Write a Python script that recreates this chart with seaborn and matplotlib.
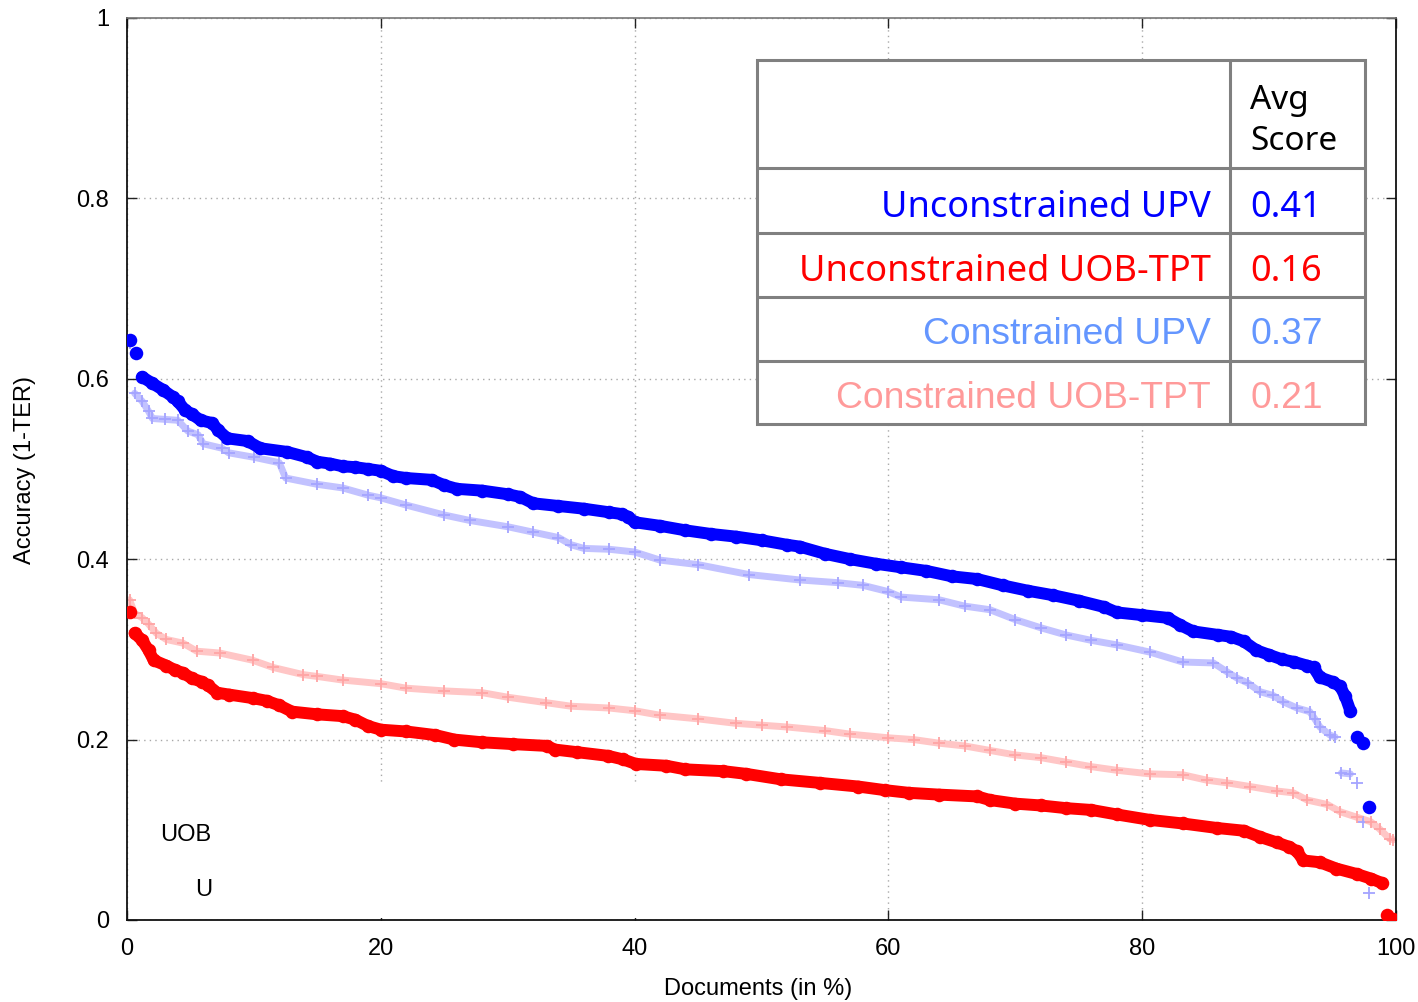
import matplotlib
matplotlib.use("Agg")
import matplotlib.pyplot as plt
import seaborn as sns
from matplotlib.patches import Rectangle
from matplotlib.lines import Line2D

# ---------------- data ----------------
upv_u_x = [0.2, 0.7, 1.2, 2.0, 2.8, 3.6, 4.0, 4.6, 5.1, 5.8, 6.7, 7.2, 7.9, 9.5, 10.5, 12.6, 14.2, 15, 16, 17,
           18, 19, 20, 21, 22, 24, 25, 26, 28, 30, 31, 32, 34, 36, 38, 39, 39.5, 40, 42, 44,
           46, 48, 50, 52, 53, 55, 57, 59, 61, 63, 65, 67, 69, 71, 73, 75, 77, 78, 80, 82,
           83, 84, 86, 87, 88, 89, 90, 91, 92, 93, 93.5, 94.0, 95.0, 95.6, 96.0, 96.4, 96.9, 97.4, 97.9]
upv_u_y = [0.643, 0.629, 0.602, 0.595, 0.588, 0.58, 0.575, 0.565, 0.561, 0.554, 0.551, 0.543, 0.534, 0.531, 0.523, 0.519, 0.513, 0.508, 0.506, 0.503,
           0.502, 0.5, 0.498, 0.492, 0.49, 0.488, 0.482, 0.478, 0.476, 0.472, 0.469, 0.462, 0.459, 0.456, 0.452, 0.45, 0.447, 0.441, 0.437, 0.432,
           0.428, 0.425, 0.421, 0.416, 0.414, 0.406, 0.4, 0.395, 0.391, 0.387, 0.381, 0.378, 0.371, 0.365, 0.36, 0.354, 0.347, 0.341, 0.338, 0.335,
           0.327, 0.32, 0.316, 0.314, 0.309, 0.299, 0.294, 0.289, 0.286, 0.282, 0.28, 0.269, 0.264, 0.259, 0.248, 0.232, 0.203, 0.196, 0.125]

upv_c_x = [0.2, 0.6, 1.2, 1.7, 2.0, 3.0, 4.0, 4.8, 5.6, 6.0, 7.5, 8.0, 10, 12, 12.5, 15, 17, 19, 20, 22,
           25, 27, 30, 32, 34, 35, 36, 38, 40, 42, 45, 49, 53, 56, 58, 60, 61, 64, 66, 68,
           70, 72, 74, 76, 78, 80.6, 83.2, 85.6, 86.7, 87.5, 88.3, 89.3, 90.3, 91.1, 92.2, 93.2, 93.6, 94.0, 94.8, 95.2,
           95.7, 96.4, 96.9, 97.4, 97.9]
upv_c_y = [0.64, 0.584, 0.575, 0.564, 0.556, 0.555, 0.554, 0.542, 0.538, 0.528, 0.523, 0.518, 0.513, 0.507, 0.49, 0.483, 0.479, 0.471, 0.468, 0.46,
           0.449, 0.443, 0.436, 0.43, 0.424, 0.416, 0.412, 0.411, 0.408, 0.399, 0.394, 0.383, 0.377, 0.374, 0.371, 0.364, 0.358, 0.355, 0.348, 0.344,
           0.333, 0.324, 0.316, 0.31, 0.305, 0.297, 0.286, 0.285, 0.275, 0.268, 0.263, 0.253, 0.249, 0.242, 0.235, 0.231, 0.223, 0.214, 0.205, 0.203,
           0.163, 0.162, 0.152, 0.109, 0.03]

uob_u_x = [0.2, 0.6, 1.2, 1.7, 2.1, 3.1, 3.8, 4.4, 5.1, 5.9, 6.4, 7.1, 8, 9.9, 11, 12, 13, 15, 17, 18,
           19, 20, 22, 24.3, 25.8, 28, 30.4, 33.1, 33.7, 35.5, 37.9, 39.1, 40.1, 42.5, 44, 47, 48.8, 51.5, 54.6, 57.6,
           59.7, 61.6, 64, 67, 68, 70, 72, 74, 76, 78, 80.6, 83.2, 85.9, 88, 89.3, 90.6, 91.6, 92.2, 92.7, 94,
           95.3, 96.9, 98, 98.9, 99.3, 99.8]
uob_u_y = [0.341, 0.318, 0.31, 0.299, 0.288, 0.282, 0.277, 0.274, 0.268, 0.264, 0.26, 0.252, 0.25, 0.246, 0.243, 0.238, 0.231, 0.228, 0.226, 0.222,
           0.215, 0.211, 0.209, 0.205, 0.2, 0.197, 0.195, 0.193, 0.189, 0.186, 0.182, 0.178, 0.173, 0.171, 0.167, 0.165, 0.162, 0.156, 0.152, 0.148,
           0.144, 0.141, 0.139, 0.137, 0.133, 0.129, 0.127, 0.124, 0.122, 0.117, 0.111, 0.107, 0.102, 0.099, 0.092, 0.086, 0.081, 0.076, 0.066, 0.064,
           0.057, 0.051, 0.046, 0.041, 0.006, 0.001]

uob_c_x = [0.2, 0.6, 1.2, 1.7, 2.3, 3.1, 4.4, 5.5, 7.3, 9.9, 11.5, 13.9, 15, 17, 20, 22, 25, 28, 30, 33,
           35, 38, 40, 42, 45, 48, 50, 52, 55, 57, 60, 62, 64, 66, 68, 70, 72, 74, 76, 78,
           80.6, 83.2, 85.1, 86.7, 88.5, 90.6, 91.9, 93, 94.6, 95.6, 96.9, 98, 98.7, 99.5, 99.8]
uob_c_y = [0.355, 0.34, 0.335, 0.328, 0.318, 0.311, 0.307, 0.298, 0.296, 0.288, 0.28, 0.272, 0.27, 0.266, 0.262, 0.257, 0.254, 0.252, 0.247, 0.241,
           0.237, 0.235, 0.232, 0.227, 0.223, 0.218, 0.216, 0.214, 0.21, 0.206, 0.202, 0.2, 0.196, 0.193, 0.188, 0.183, 0.18, 0.175, 0.17, 0.166,
           0.162, 0.161, 0.155, 0.152, 0.148, 0.143, 0.141, 0.133, 0.128, 0.12, 0.114, 0.109, 0.101, 0.09, 0.089]

legend_labels = ["Unconstrained UPV", "Unconstrained UOB-TPT", "Constrained UPV", "Constrained UOB-TPT"]
legend_scores = ["0.41", "0.16", "0.37", "0.21"]

x_ticks = [0, 20, 40, 60, 80, 100]
x_tick_labels = ["0", "20", "40", "60", "80", "100"]
y_ticks = [0, 0.2, 0.4, 0.6, 0.8, 1]
y_tick_labels = ["0", "0.2", "0.4", "0.6", "0.8", "1"]

# ---------------- style ----------------
sns.set_theme(style="white")
plt.rcParams["font.family"] = ["Liberation Sans", "DejaVu Sans"]

BLUE = "#0000ff"
RED = "#ff0000"
LBLUE_LINE = "#c2c2ff"
LBLUE_MARK = "#a4a4ff"
PINK_LINE = "#ffc6c6"
PINK_MARK = "#ffa4a4"

W, H = 1418, 1002
fig = plt.figure(figsize=(W / 100, H / 100), dpi=100)
fig.patch.set_facecolor("white")
ax = fig.add_axes([127 / W, 1 - 920 / H, (1396 - 127) / W, (920 - 18) / H])
ax.set_facecolor("white")
ax.set_xlim(0, 100)
ax.set_ylim(0, 1)
ax.set_axisbelow(True)

ax.set_xticks(x_ticks)
ax.set_xticklabels(x_tick_labels)
ax.set_yticks(y_ticks)
ax.set_yticklabels(y_tick_labels)
ax.tick_params(axis="both", direction="in", length=7, width=1, color="#222222",
               top=True, right=True, bottom=True, left=True, labelsize=17, labelcolor="black")
ax.tick_params(axis="x", pad=13)
ax.tick_params(axis="y", pad=13)
ax.grid(True, color="#a8a8a8", linestyle=(0, (1, 3)), linewidth=1)

for side in ["left", "right", "bottom"]:
    ax.spines[side].set_color("#111111")
    ax.spines[side].set_linewidth(1.3)
ax.spines["top"].set_color("#777777")
ax.spines["top"].set_linewidth(1.2)

# area in bottom-left where the grid is hidden
ax.add_patch(Rectangle((0.3, 0.002), 50, 0.148, facecolor="white", edgecolor="none", zorder=0.8))

ax.set_xlabel("Documents (in %)", fontsize=17, color="black")
ax.set_ylabel("Accuracy (1-TER)", fontsize=17, color="black")
ax.xaxis.set_label_coords(0.497, -0.064)
ax.yaxis.set_label_coords(-0.072, 0.499)

# ---------------- series ----------------
def line(xs, ys, a, b, color, lw, z):
    sns.lineplot(x=xs[a:b], y=ys[a:b], ax=ax, color=color, linewidth=lw, sort=False,
                 estimator=None, solid_capstyle="round", zorder=z, legend=False)

# constrained (crosses)
line(upv_c_x, upv_c_y, 1, 60, LBLUE_LINE, 5.0, 2)
line(upv_c_x, upv_c_y, 60, 62, LBLUE_LINE, 5.0, 2)
sns.scatterplot(x=upv_c_x, y=upv_c_y, ax=ax, marker="+", s=80, linewidth=1.3, color=LBLUE_MARK, zorder=2.5, legend=False)

line(uob_c_x, uob_c_y, 0, len(uob_c_x), PINK_LINE, 5.0, 2)
sns.scatterplot(x=uob_c_x, y=uob_c_y, ax=ax, marker="+", s=80, linewidth=1.3, color=PINK_MARK, zorder=2.5, legend=False)

# unconstrained (dots)
line(upv_u_x, upv_u_y, 2, 76, BLUE, 8.6, 3)
sns.scatterplot(x=upv_u_x, y=upv_u_y, ax=ax, marker="o", s=95, linewidth=0, color=BLUE, zorder=3.5, legend=False)

line(uob_u_x, uob_u_y, 1, 64, RED, 8.6, 3)
sns.scatterplot(x=uob_u_x, y=uob_u_y, ax=ax, marker="o", s=95, linewidth=0, color=RED, zorder=3.5, legend=False)

# clipped key labels at bottom-left
clip = Rectangle((0, 0), 6.7, 1, transform=ax.transData)
t1 = ax.text(2.6, 0.094, "UOB-TPT", fontsize=17, va="center", ha="left", color="black", zorder=5, clip_on=True)
t1.set_clip_path(clip)
t2 = ax.text(5.36, 0.033, "UPV", fontsize=17, va="center", ha="left", color="black", zorder=5, clip_on=True)
t2.set_clip_path(clip)

# ---------------- legend table ----------------
def fx(px):
    return px / W

def fy(py):
    return 1 - py / H

GRAY = "#808080"
LW = 2.2
fig.add_artist(Rectangle((fx(757), fy(424)), (1365 - 757) / W, (424 - 60) / H, transform=fig.transFigure,
                         facecolor="white", edgecolor=GRAY, linewidth=LW, zorder=10))
fig.add_artist(Line2D([fx(1230), fx(1230)], [fy(60), fy(424)], transform=fig.transFigure,
                      color=GRAY, linewidth=LW, zorder=11))
for py in [168, 233, 297, 361]:
    fig.add_artist(Line2D([fx(757), fx(1365)], [fy(py), fy(py)], transform=fig.transFigure,
                          color=GRAY, linewidth=LW, zorder=11))

fig.text(fx(1250), fy(109), "Avg", ha="left", va="baseline", fontsize=24, family="Noto Sans", color="black", zorder=12)
fig.text(fx(1250), fy(150), "Score", ha="left", va="baseline", fontsize=24, family="Noto Sans", color="black", zorder=12)

row_colors = [BLUE, RED, "#6496ff", "#ff9a9a"]
row_fonts = ["Noto Sans", "Noto Sans", "Liberation Sans", "Liberation Sans"]
row_sizes = [26, 26, 26.8, 26.8]
row_base = [217, 281, 344, 408]
for lab, sc, c, f, s, b in zip(legend_labels, legend_scores, row_colors, row_fonts, row_sizes, row_base):
    fig.text(fx(1211), fy(b), lab, ha="right", va="baseline", fontsize=s, family=f, color=c, zorder=12)
    fig.text(fx(1250), fy(b), sc, ha="left", va="baseline", fontsize=s, family=f, color=c, zorder=12)

fig.savefig("out.png", dpi=100, facecolor="white")
